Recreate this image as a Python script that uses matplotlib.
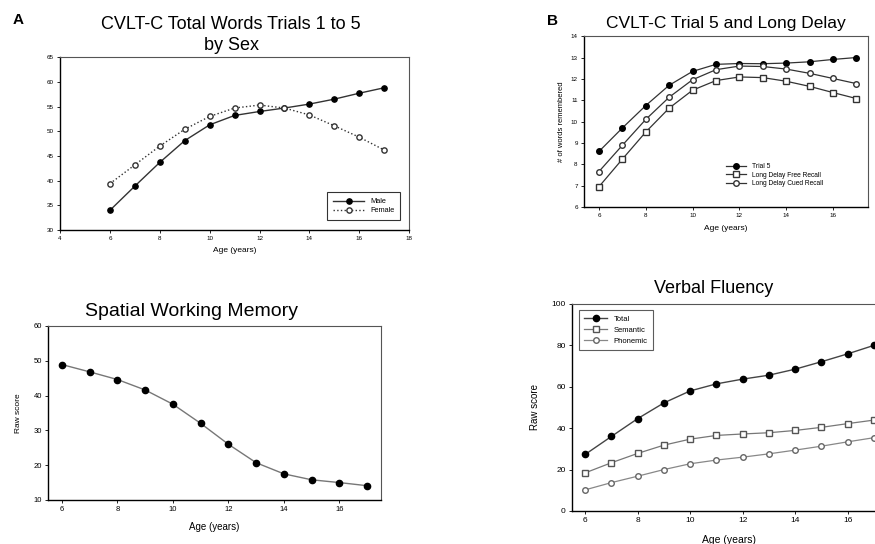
import matplotlib
matplotlib.use("Agg")
import matplotlib.pyplot as plt

plt.rcParams["font.family"] = ["Liberation Sans", "DejaVu Sans"]

ages = [6, 7, 8, 9, 10, 11, 12, 13, 14, 15, 16, 17]

# A: CVLT-C total words trials 1-5 by sex
male = [34.0, 38.9, 43.7, 48.1, 51.3, 53.2, 54.0, 54.7, 55.5, 56.5, 57.7, 58.8]
female = [39.4, 43.2, 47.0, 50.4, 53.0, 54.7, 55.3, 54.7, 53.3, 51.1, 48.8, 46.2]

# B: CVLT-C trial 5 and long delay
trial5 = [8.6, 9.7, 10.75, 11.7, 12.35, 12.68, 12.72, 12.71, 12.74, 12.8, 12.91, 13.0]
free_recall = [6.95, 8.24, 9.51, 10.63, 11.47, 11.92, 12.09, 12.06, 11.89, 11.65, 11.36, 11.08]
cued_recall = [7.66, 8.89, 10.1, 11.14, 11.96, 12.43, 12.6, 12.58, 12.46, 12.26, 12.02, 11.78]

# C: spatial working memory
swm = [48.9, 46.8, 44.6, 41.6, 37.5, 32.0, 26.0, 20.7, 17.5, 15.8, 15.0, 14.1]

# D: verbal fluency
vf_total = [27.3, 36.0, 44.6, 52.2, 58.0, 61.4, 63.7, 65.6, 68.5, 72.1, 75.9, 80.0]
vf_semantic = [18.4, 23.3, 27.8, 31.8, 34.7, 36.5, 37.2, 37.8, 38.9, 40.4, 42.2, 43.9]
vf_phonemic = [10.2, 13.7, 16.8, 20.0, 22.8, 24.6, 26.0, 27.6, 29.4, 31.3, 33.4, 35.4]


def style_axes(ax, tick_size):
    ax.tick_params(direction="out", length=2.5, width=0.6, labelsize=tick_size, pad=2)
    for s in ["left", "bottom"]:
        ax.spines[s].set_linewidth(1.0)
        ax.spines[s].set_color("black")
    for s in ["top", "right"]:
        ax.spines[s].set_linewidth(0.8)
        ax.spines[s].set_color("#555555")


fig = plt.figure(figsize=(8.75, 5.44), dpi=100)

# ---- Panel A
ax = fig.add_axes([0.0686, 0.577, 0.399, 0.318])
ax.plot(ages, male, "-", color="#333333", lw=1.0, marker="o", ms=3.8,
        mfc="black", mec="black", label="Male")
ax.plot(ages, female, ":", color="#333333", lw=1.0, marker="o", ms=3.8,
        mfc="white", mec="#333333", label="Female")
ax.set_xlim(4, 18)
ax.set_ylim(30, 65)
ax.set_xticks(range(4, 19, 2))
ax.set_yticks(range(30, 66, 5))
style_axes(ax, 4.5)
ax.set_xlabel("Age (years)", fontsize=6, labelpad=4)
ttl = ax.set_title("CVLT-C Total Words Trials 1 to 5\nby Sex", fontsize=13,
                   pad=5, x=0.49)
ttl.set_linespacing(1.35)
leg = ax.legend(loc="lower right", fontsize=5.3, frameon=True, fancybox=False,
                edgecolor="black", handlelength=4.2, borderpad=0.8,
                labelspacing=0.3, bbox_to_anchor=(0.985, 0.035))
leg.get_frame().set_linewidth(0.8)
fig.text(0.021, 0.963, "A", fontsize=11, fontweight="bold", ha="center", va="center")

# ---- Panel B
ax = fig.add_axes([0.6674, 0.6195, 0.3246, 0.314])
ax.plot(ages, trial5, "-", color="#333333", lw=0.9, marker="o", ms=4,
        mfc="black", mec="black", label="Trial 5")
ax.plot(ages, free_recall, "-", color="#333333", lw=0.9, marker="s", ms=4,
        mfc="white", mec="#333333", label="Long Delay Free Recall")
ax.plot(ages, cued_recall, "-", color="#333333", lw=0.9, marker="o", ms=4,
        mfc="white", mec="#333333", label="Long Delay Cued Recall")
ax.set_xlim(5.36, 17.5)
ax.set_ylim(6, 14)
ax.set_xticks(range(6, 17, 2))
ax.set_yticks(range(6, 15))
style_axes(ax, 4.5)
ax.set_xlabel("Age (years)", fontsize=6, labelpad=5)
ax.set_ylabel("# of words remembered", fontsize=5.5, labelpad=4)
ax.set_title("CVLT-C Trial 5 and Long Delay", fontsize=12.5, pad=6)
ax.legend(loc="upper left", bbox_to_anchor=(0.48, 0.29), fontsize=4.8,
          frameon=False, handlelength=3.0, labelspacing=0.2)
fig.text(0.632, 0.962, "B", fontsize=11, fontweight="bold", ha="center", va="center")

# ---- Panel C
ax = fig.add_axes([0.0549, 0.0809, 0.3806, 0.320])
ax.plot(ages, swm, "-", color="#777777", lw=1.0, marker="o", ms=4.5,
        mfc="black", mec="black")
ax.set_xlim(5.5, 17.5)
ax.set_ylim(10, 60)
ax.set_xticks(range(6, 17, 2))
ax.set_yticks(range(10, 61, 10))
style_axes(ax, 5.5)
ax.set_xlabel("Age (years)", fontsize=7, labelpad=6)
ax.set_ylabel("Raw score", fontsize=6, labelpad=8)
ax.set_title("Spatial Working Memory", fontsize=14, pad=7, x=0.43)

# ---- Panel D
ax = fig.add_axes([0.6537, 0.0607, 0.36, 0.3805])
ax.plot(ages, vf_total, "-", color="#444444", lw=1.0, marker="o", ms=4.5,
        mfc="black", mec="black", label="Total")
ax.plot(ages, vf_semantic, "-", color="#777777", lw=0.9, marker="s", ms=4,
        mfc="white", mec="#555555", label="Semantic")
ax.plot(ages, vf_phonemic, "-", color="#888888", lw=0.9, marker="o", ms=4,
        mfc="white", mec="#666666", label="Phonemic")
ax.set_xlim(5.5, 17.5)
ax.set_ylim(0, 100)
ax.set_xticks(range(6, 17, 2))
ax.set_yticks(range(0, 101, 20))
style_axes(ax, 6)
ax.set_xlabel("Age (years)", fontsize=7.5, labelpad=8)
ax.set_ylabel("Raw score", fontsize=7, labelpad=8)
ax.set_title("Verbal Fluency", fontsize=13, pad=8, x=0.45)
leg = ax.legend(loc="upper left", fontsize=5.5, frameon=True, fancybox=False,
                edgecolor="#333333", handlelength=3.0, borderpad=0.7,
                bbox_to_anchor=(0.01, 0.99))
leg.get_frame().set_linewidth(0.8)

fig.savefig("out.png", dpi=100)
